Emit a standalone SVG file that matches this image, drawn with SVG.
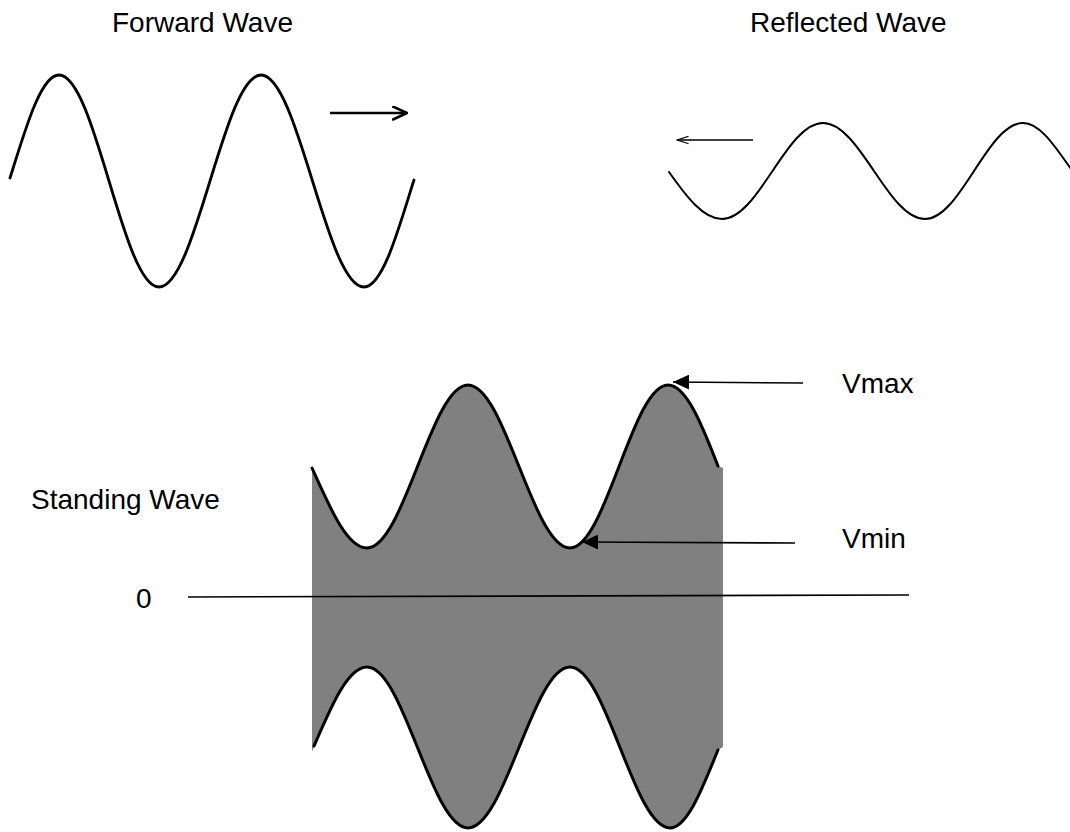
<svg xmlns="http://www.w3.org/2000/svg" width="1070" height="832" viewBox="0 0 1070 832">
<style>
text{font-family:"Liberation Sans",Arial,sans-serif;font-size:28px;fill:#000}
.wave{fill:none;stroke:#000;stroke-linecap:round;stroke-linejoin:round}
.conn{fill:none;stroke:#000}
</style>
<defs>
<marker id="tri" viewBox="0 0 16 15" refX="16" refY="7.5" markerWidth="16" markerHeight="15" markerUnits="userSpaceOnUse" orient="auto">
<path d="M0,0 L16,7.5 L0,15 Z" fill="#000"/>
</marker>
<marker id="openBig" viewBox="-1 -1 16 15" refX="14" refY="6.5" markerWidth="16" markerHeight="15" markerUnits="userSpaceOnUse" orient="auto">
<path d="M0,0 L14,6.5 L0,13" fill="none" stroke="#000" stroke-width="2.5" stroke-linecap="round"/>
</marker>
<marker id="openSmall" viewBox="-1 -1 13 9" refX="11" refY="3.5" markerWidth="13" markerHeight="9" markerUnits="userSpaceOnUse" orient="auto">
<path d="M0,0 L11,3.5 L0,7" fill="none" stroke="#000" stroke-width="1.3" stroke-linecap="round"/>
</marker>
</defs>
<rect width="1070" height="832" fill="#fff"/>

<g id="forward-wave">
<text x="112" y="32">Forward Wave</text>
<path class="wave" stroke-width="2.8" d="M10,178 C26,127 41,75 59,75 C95.3,75 122.7,287 159,287 C196,287 224,75 261,75 C298.4,75 326.6,287 364,287 C381.8,287 397,235 413,183 l1,-3"/>
</g>

<g id="reflected-wave">
<text x="750" y="32">Reflected Wave</text>
<path class="wave" stroke-width="2" d="M669,172 C686,196 703,219 722,219 C758.7,219 786.3,123 823,123 C860.1,123 887.9,219 925,219 C960.6,219 987.4,123 1023,123 C1040,123 1054.7,146 1071,169"/>
</g>

<g id="standing-wave">
<path fill="#808080" d="M312,458 L312,468 C330,508 347,548 367,548 C403.7,548 431.3,385 468,385 C505,385 533,548 570,548 C605.6,548 632.4,385 668,385 C686,385 701.7,424 718,466 L723,468 L723,747 L718,750 C702.4,788 687.4,828 670,828 C633.7,828 606.3,667 570,667 C533,667 505,828 468,828 C431.3,828 403.7,667 367,667 C347.8,667 331.3,706 314,746 L312,752 Z"/>
<path class="wave" stroke-width="3" d="M312,468 C330,508 347,548 367,548 C403.7,548 431.3,385 468,385 C505,385 533,548 570,548 C605.6,548 632.4,385 668,385 C686,385 701.7,424 718,466"/>
<path class="wave" stroke-width="3" d="M314,746 C331.3,706 347.8,667 367,667 C403.7,667 431.3,828 468,828 C505,828 533,667 570,667 C606.3,667 633.7,828 670,828 C687.4,828 702.4,788 718,750"/>
</g>

<g id="labels">
<text x="31" y="509">Standing Wave</text>
<text x="842" y="393">Vmax</text>
<text x="842" y="548">Vmin</text>
<text x="136" y="608">0</text>
</g>

<g id="connectors">
<line class="conn" x1="330" y1="113" x2="407" y2="113" stroke-width="2.5" marker-end="url(#openBig)"/>
<line class="conn" x1="753" y1="140" x2="677" y2="140" stroke-width="1.3" marker-end="url(#openSmall)"/>
<line class="conn" x1="803" y1="383" x2="673" y2="382" stroke-width="1.6" marker-end="url(#tri)"/>
<line class="conn" x1="795" y1="543" x2="582" y2="542" stroke-width="1.6" marker-end="url(#tri)"/>
<line class="conn" x1="188" y1="597" x2="909" y2="595" stroke-width="1.6"/>
</g>
</svg>
